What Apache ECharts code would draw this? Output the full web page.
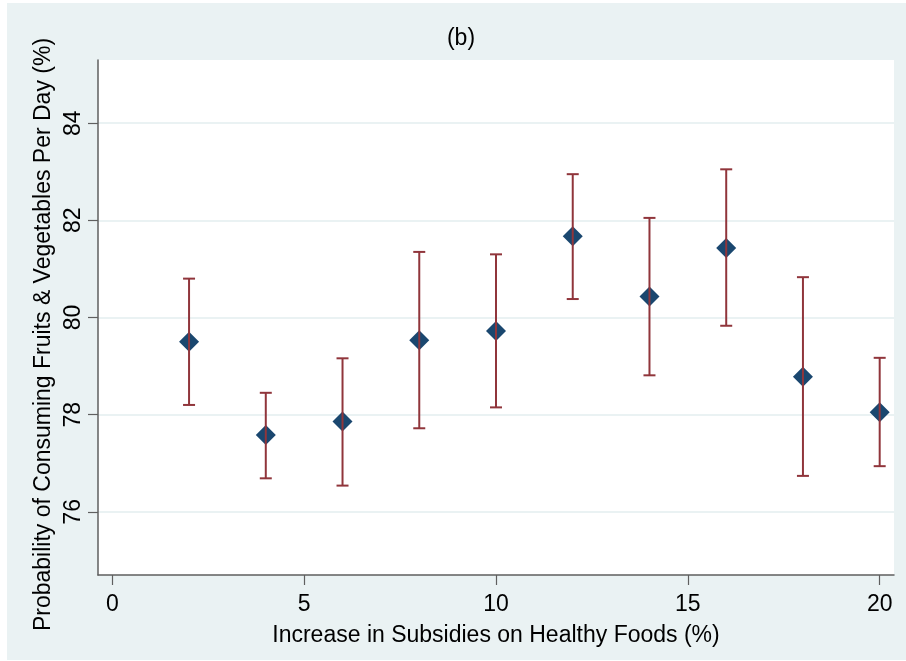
<!DOCTYPE html>
<html>
<head>
<meta charset="utf-8">
<script src="https://cdn.jsdelivr.net/npm/echarts@6/dist/echarts.min.js"></script>
<style>
html,body{margin:0;padding:0;background:#ffffff;}
#chart{width:906px;height:661px;}
</style>
</head>
<body>
<div id="chart"></div>
<script>
// Data
const subsidy = [2, 4, 6, 8, 10, 12, 14, 16, 18, 20];
const estimate = [79.50, 77.58, 77.86, 79.53, 79.72, 81.67, 80.43, 81.43, 78.78, 78.05];
const upperCI = [80.80, 78.45, 79.16, 81.35, 81.30, 82.95, 82.05, 83.05, 80.83, 79.17];
const lowerCI = [78.20, 76.69, 76.54, 77.72, 78.15, 80.38, 78.81, 79.83, 76.74, 76.94];
const xTicks = [0, 5, 10, 15, 20];
const yTicks = [76, 78, 80, 82, 84];

const BG = '#eaf2f3';
const AXIS = '#5f5f5f';
const textFont = '"Liberation Sans", Arial, sans-serif';

const chart = echarts.init(document.getElementById('chart'), null, {renderer: 'canvas'});

const pointData = subsidy.map((x, i) => [x, estimate[i]]);
const barData = subsidy.map((x, i) => [x, lowerCI[i], upperCI[i]]);

chart.setOption({
  backgroundColor: '#ffffff',
  animation: false,
  graphic: [
    {type: 'rect', left: 7, top: 3, z: -10, silent: true,
     shape: {width: 899, height: 657}, style: {fill: BG}},
    {type: 'rect', left: 98, top: 60, z: -9, silent: true,
     shape: {width: 796, height: 515}, style: {fill: '#ffffff'}}
  ],
  title: {
    text: '(b)',
    left: 456, top: 22, textAlign: 'center',
    textStyle: {fontFamily: textFont, fontSize: 23, fontWeight: 'normal', color: '#000'}
  },
  grid: {left: 98, right: 12, top: 60, bottom: 86, containLabel: false},
  xAxis: {
    type: 'value', min: -0.373, max: 20.373,
    name: 'Increase in Subsidies on Healthy Foods (%)',
    nameLocation: 'middle', nameGap: 49, nameMoveOverlap: false,
    nameTextStyle: {fontFamily: textFont, fontSize: 23, color: '#000'},
    axisLine: {show: true, onZero: false, lineStyle: {color: AXIS, width: 1.5}},
    axisTick: {show: true, length: 10, inside: false, customValues: xTicks, lineStyle: {color: AXIS, width: 1.2}},
    axisLabel: {show: true, customValues: xTicks, margin: 18, fontFamily: textFont, fontSize: 23, color: '#000'},
    splitLine: {show: false}
  },
  yAxis: {
    type: 'value', min: 74.70, max: 85.30,
    name: 'Probability of Consuming Fruits & Vegetables Per Day (%)',
    nameLocation: 'middle', nameGap: 43, nameRotate: 90, nameMoveOverlap: false,
    nameTextStyle: {fontFamily: textFont, fontSize: 23, color: '#000', padding: [0, 34, 0, 0]},
    axisLine: {show: true, onZero: false, lineStyle: {color: AXIS, width: 1.5}},
    axisTick: {show: true, length: 10, inside: false, customValues: yTicks, lineStyle: {color: AXIS, width: 1.2}},
    axisLabel: {show: true, customValues: yTicks, rotate: 90, margin: 24, fontFamily: textFont, fontSize: 23, color: '#000',
                verticalAlign: 'middle', align: 'center'},
    splitLine: {show: true, lineStyle: {color: BG, width: 2}}
  },
  series: [
    {
      type: 'scatter',
      data: pointData,
      symbol: 'diamond',
      symbolSize: 20,
      itemStyle: {color: '#1a476f', opacity: 1},
      z: 2
    },
    {
      type: 'custom',
      data: barData,
      z: 3,
      renderItem: function (params, api) {
        const x = api.value(0);
        const lo = api.coord([x, api.value(1)]);
        const hi = api.coord([x, api.value(2)]);
        const half = 6;
        const style = {stroke: '#90353b', lineWidth: 2, fill: null};
        return {
          type: 'group',
          children: [
            {type: 'line', shape: {x1: lo[0], y1: lo[1], x2: hi[0], y2: hi[1]}, style: style},
            {type: 'line', shape: {x1: hi[0] - half, y1: hi[1], x2: hi[0] + half, y2: hi[1]}, style: style},
            {type: 'line', shape: {x1: lo[0] - half, y1: lo[1], x2: lo[0] + half, y2: lo[1]}, style: style}
          ]
        };
      }
    }
  ]
});
</script>
</body>
</html>
